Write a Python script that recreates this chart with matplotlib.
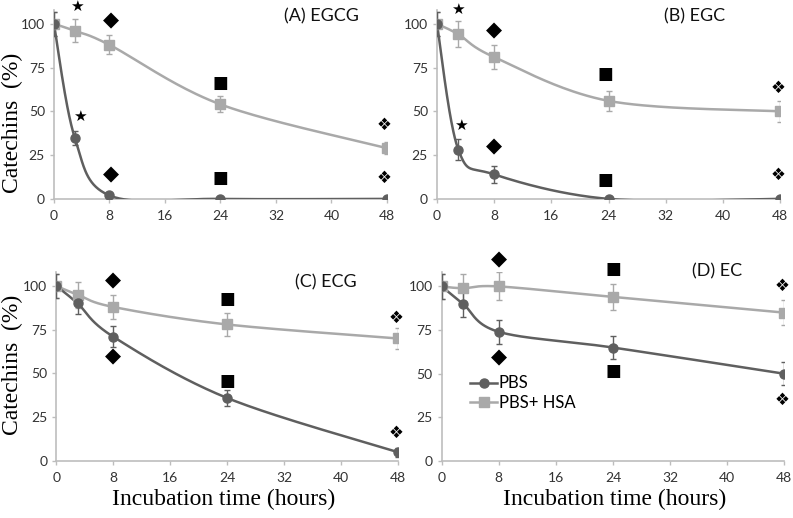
import numpy as np
import matplotlib.pyplot as plt

# ── data ──────────────────────────────────────────────────────────────
hours = [0, 3, 8, 24, 48]

pbs_A = [100, 35, 2, 0, 0]
pbs_A_err = [7, 4, 1.5, 0, 0]
hsa_A = [100, 96, 88, 54, 29]
hsa_A_err = [7, 6.5, 5.5, 4.5, 3.5]

pbs_B = [100, 28, 14, 0, 0]
pbs_B_err = [7, 6, 5, 0, 0]
hsa_B = [100, 94, 81, 56, 50]
hsa_B_err = [7, 7.5, 7, 5.5, 6]

pbs_C = [100, 90, 71, 36, 5]
pbs_C_err = [7, 6, 6, 4.5, 2.5]
hsa_C = [100, 95, 88, 78, 70]
hsa_C_err = [7, 7.5, 7, 6.5, 6]

pbs_D = [100, 90, 74, 65, 50]
pbs_D_err = [7, 7.5, 7, 6.5, 6.5]
hsa_D = [100, 99, 100, 94, 85]
hsa_D_err = [7, 8, 8, 7.5, 7]

titles = ["(A) EGCG", "(B) EGC", "(C) ECG", "(D) EC"]
title_x = [38.5, 36.0, 37.8, 38.6]
title_y = [104.5, 104.5, 102.0, 108.8]

# significance markers per panel
sig_A_sym = ["★", "★", "◆", "◆", "■", "■", "❖", "❖"]
sig_A_x = [3.3, 3.7, 8.2, 8.2, 24, 24, 47.6, 47.6]
sig_A_y = [110, 47, 102, 14, 66, 12, 42, 12]

sig_B_sym = ["★", "★", "◆", "◆", "■", "■", "❖", "❖"]
sig_B_x = [2.9, 3.4, 8.0, 8.0, 23.6, 23.6, 47.7, 47.7]
sig_B_y = [108.5, 42, 96.5, 30, 71.5, 11, 63.5, 13.5]

sig_C_sym = ["◆", "◆", "■", "■", "❖", "❖"]
sig_C_x = [8.0, 8.0, 24, 24, 47.7, 47.7]
sig_C_y = [103, 59.5, 92.5, 46, 82, 16]

sig_D_sym = ["◆", "◆", "■", "■", "❖", "❖"]
sig_D_x = [8.0, 8.0, 24, 24, 47.7, 47.7]
sig_D_y = [115.5, 59.5, 110, 51.5, 100.5, 35]

PBS_COL = "#5f5f5f"
HSA_COL = "#a9a9a9"
AXIS_COL = "#bdbdbd"
TICK_FONT = "Lato"
SERIF = "Liberation Serif"


def smooth(xs, ys, sx=7.1, sy=1.76, n=40):
    """Excel-like smoothed line: cubic Bezier through points (Catmull-Rom)."""
    p = np.column_stack([np.array(xs, float) * sx, np.array(ys, float) * sy])
    pts = np.vstack([p[0], p, p[-1]])
    out = []
    t = np.linspace(0, 1, n)[:, None]
    for i in range(1, len(pts) - 2):
        p0, p1, p2, p3 = pts[i - 1], pts[i], pts[i + 1], pts[i + 2]
        c1 = p1 + (p2 - p0) / 6
        c2 = p2 - (p3 - p1) / 6
        seg = ((1 - t) ** 3) * p1 + 3 * ((1 - t) ** 2) * t * c1 \
            + 3 * (1 - t) * t ** 2 * c2 + t ** 3 * p2
        out.append(seg)
    out = np.vstack(out)
    return out[:, 0] / sx, out[:, 1] / sy


fig = plt.figure(figsize=(7.93, 5.18), dpi=100)

positions = [
    [0.068, 0.616, 0.420, 0.365],
    [0.551, 0.616, 0.433, 0.365],
    [0.071, 0.110, 0.431, 0.365],
    [0.557, 0.110, 0.432, 0.364],
]
pbs_all = [(pbs_A, pbs_A_err), (pbs_B, pbs_B_err), (pbs_C, pbs_C_err), (pbs_D, pbs_D_err)]
hsa_all = [(hsa_A, hsa_A_err), (hsa_B, hsa_B_err), (hsa_C, hsa_C_err), (hsa_D, hsa_D_err)]
sig_all = [(sig_A_sym, sig_A_x, sig_A_y), (sig_B_sym, sig_B_x, sig_B_y),
           (sig_C_sym, sig_C_x, sig_C_y), (sig_D_sym, sig_D_x, sig_D_y)]
sym_size = {"★": 11, "◆": 15, "■": 12, "❖": 12}

axes = []
for k in range(4):
    ax = fig.add_axes(positions[k])
    axes.append(ax)
    (pv, pe), (hv, he) = pbs_all[k], hsa_all[k]

    for vals, errs, col, mk in [(hv, he, HSA_COL, "s"), (pv, pe, PBS_COL, "o")]:
        sxs, sys_ = smooth(hours, vals)
        ax.plot(sxs, sys_, color=col, lw=1.8, zorder=3)
        ax.errorbar(hours, vals, yerr=errs, fmt="none", ecolor=col,
                    elinewidth=1, capsize=2.5, capthick=1, zorder=3)
        ax.plot(hours, vals, ls="none", marker=mk, ms=6.5, color=col, zorder=4)

    syms, sxp, syp = sig_all[k]
    for s, xx, yy in zip(syms, sxp, syp):
        ax.text(xx, yy, s, ha="center", va="center", fontsize=sym_size[s],
                color="black", family="DejaVu Sans", zorder=5)

    ax.text(title_x[k], title_y[k], titles[k], ha="center", va="center",
            fontsize=13, family=TICK_FONT, color="#111111")

    ax.set_xlim(0, 48)
    ax.set_ylim(0, 108)
    ax.set_xticks([0, 8, 16, 24, 32, 40, 48])
    ax.set_yticks([0, 25, 50, 75, 100])
    for sp in ["top", "right"]:
        ax.spines[sp].set_visible(False)
    for sp in ["left", "bottom"]:
        ax.spines[sp].set_color(AXIS_COL)
        ax.spines[sp].set_linewidth(1.2)
    ax.tick_params(colors=AXIS_COL, labelcolor="#333333", labelsize=10,
                   length=3, width=1)
    for lab in ax.get_xticklabels() + ax.get_yticklabels():
        lab.set_family(TICK_FONT)
    ax.tick_params(axis="x", pad=5)
    ax.patch.set_alpha(0)

# legend in panel D
ax = axes[3]
h1, = ax.plot([], [], color=PBS_COL, marker="o", ms=6.5, lw=1.8)
h2, = ax.plot([], [], color=HSA_COL, marker="s", ms=6.5, lw=1.8)
ax.legend([h1, h2], ["PBS", "PBS+ HSA"], loc="center left",
          bbox_to_anchor=(0.05, 0.36), frameon=False, handlelength=1.6,
          handletextpad=0.1, labelspacing=0.2, borderpad=0.2,
          prop={"family": TICK_FONT, "size": 12})

fig.text(0.016, 0.762, "Catechins  (%)", rotation=90, ha="center", va="center",
         fontsize=17, family=SERIF)
fig.text(0.016, 0.295, "Catechins  (%)", rotation=90, ha="center", va="center",
         fontsize=17, family=SERIF)
fig.text(0.282, 0.035, "Incubation time (hours)", ha="center", va="center",
         fontsize=17, family=SERIF)
fig.text(0.775, 0.035, "Incubation time (hours)", ha="center", va="center",
         fontsize=17, family=SERIF)

fig.savefig("out.png", dpi=100)
